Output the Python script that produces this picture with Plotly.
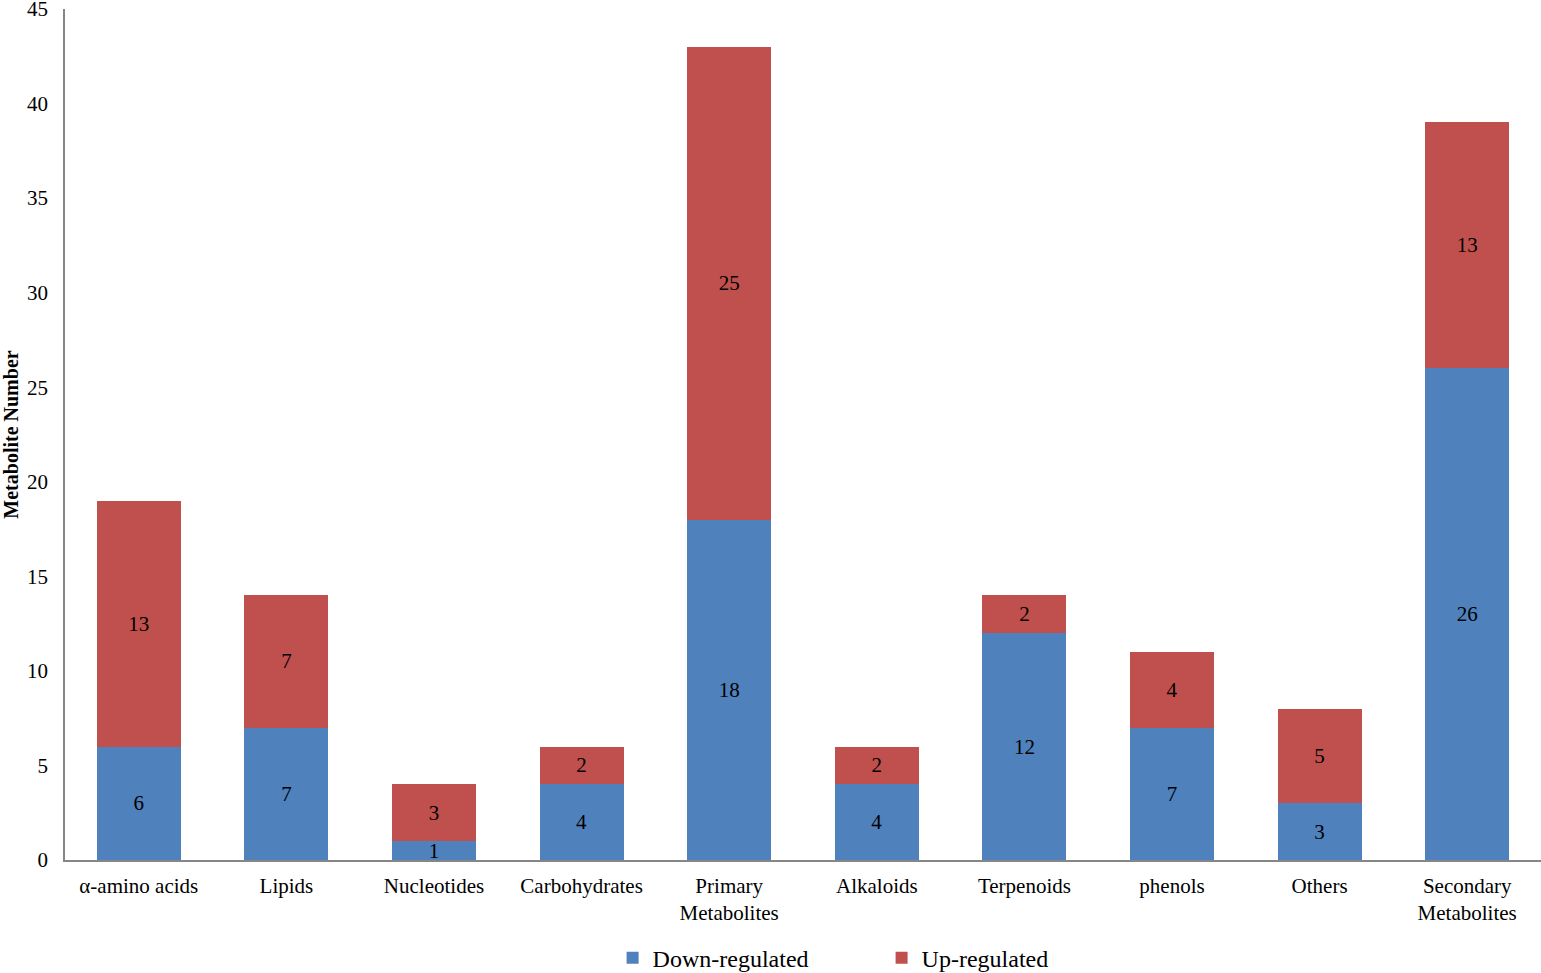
import plotly.graph_objects as go

# categorías y valores
categorias = ["α-amino acids", "Lipids", "Nucleotides", "Carbohydrates",
              "Primary<br>Metabolites", "Alkaloids", "Terpenoids", "phenols",
              "Others", "Secondary<br>Metabolites"]
down_reg = [6, 7, 1, 4, 18, 4, 12, 7, 3, 26]
up_reg = [13, 7, 3, 2, 25, 2, 2, 4, 5, 13]

FUENTE = "Liberation Serif"

fig = go.Figure()
fig.add_trace(go.Bar(
    x=categorias, y=down_reg, name="Down-regulated",
    marker=dict(color="#4F81BD", line=dict(width=0)),
    text=down_reg, textposition="inside", insidetextanchor="middle",
    textangle=0, constraintext="none",
    textfont=dict(family=FUENTE, size=21, color="black"),
))
fig.add_trace(go.Bar(
    x=categorias, y=up_reg, name="Up-regulated",
    marker=dict(color="#C0504D", line=dict(width=0)),
    text=up_reg, textposition="inside", insidetextanchor="middle",
    textangle=0, constraintext="none",
    textfont=dict(family=FUENTE, size=21, color="black"),
))

fig.update_layout(
    barmode="stack",
    bargap=0.43,
    width=1541, height=973,
    plot_bgcolor="white", paper_bgcolor="white",
    margin=dict(l=65, r=0, t=9, b=113, autoexpand=False),
    font=dict(family=FUENTE, size=20, color="black"),
    xaxis=dict(
        showline=True, linecolor="#868686", linewidth=1.5,
        ticks="", tickfont=dict(size=21), showgrid=False, automargin=False,
        ticklabelstandoff=6,
    ),
    yaxis=dict(
        range=[0, 45], tickvals=[0, 5, 10, 15, 20, 25, 30, 35, 40, 45],
        showgrid=False, zeroline=False, automargin=False,
        showline=True, linecolor="#868686", linewidth=1.5, ticks="",
        tickfont=dict(size=21), ticklabeloverflow="allow", ticklabelstandoff=11,
        title=dict(text="<b>Metabolite Number</b>", font=dict(size=20), standoff=11),
    ),
    legend=dict(
        orientation="h", traceorder="normal",
        x=0.371, xanchor="left", y=-0.089, yanchor="top",
        entrywidth=224, entrywidthmode="pixels",
        font=dict(size=24), itemwidth=30,
    ),
)

# quitar el margen por defecto del <body> para que la figura llene la ventana
fig.write_html("out.html", config={"displayModeBar": False},
               post_script="document.body.style.margin='0';")
